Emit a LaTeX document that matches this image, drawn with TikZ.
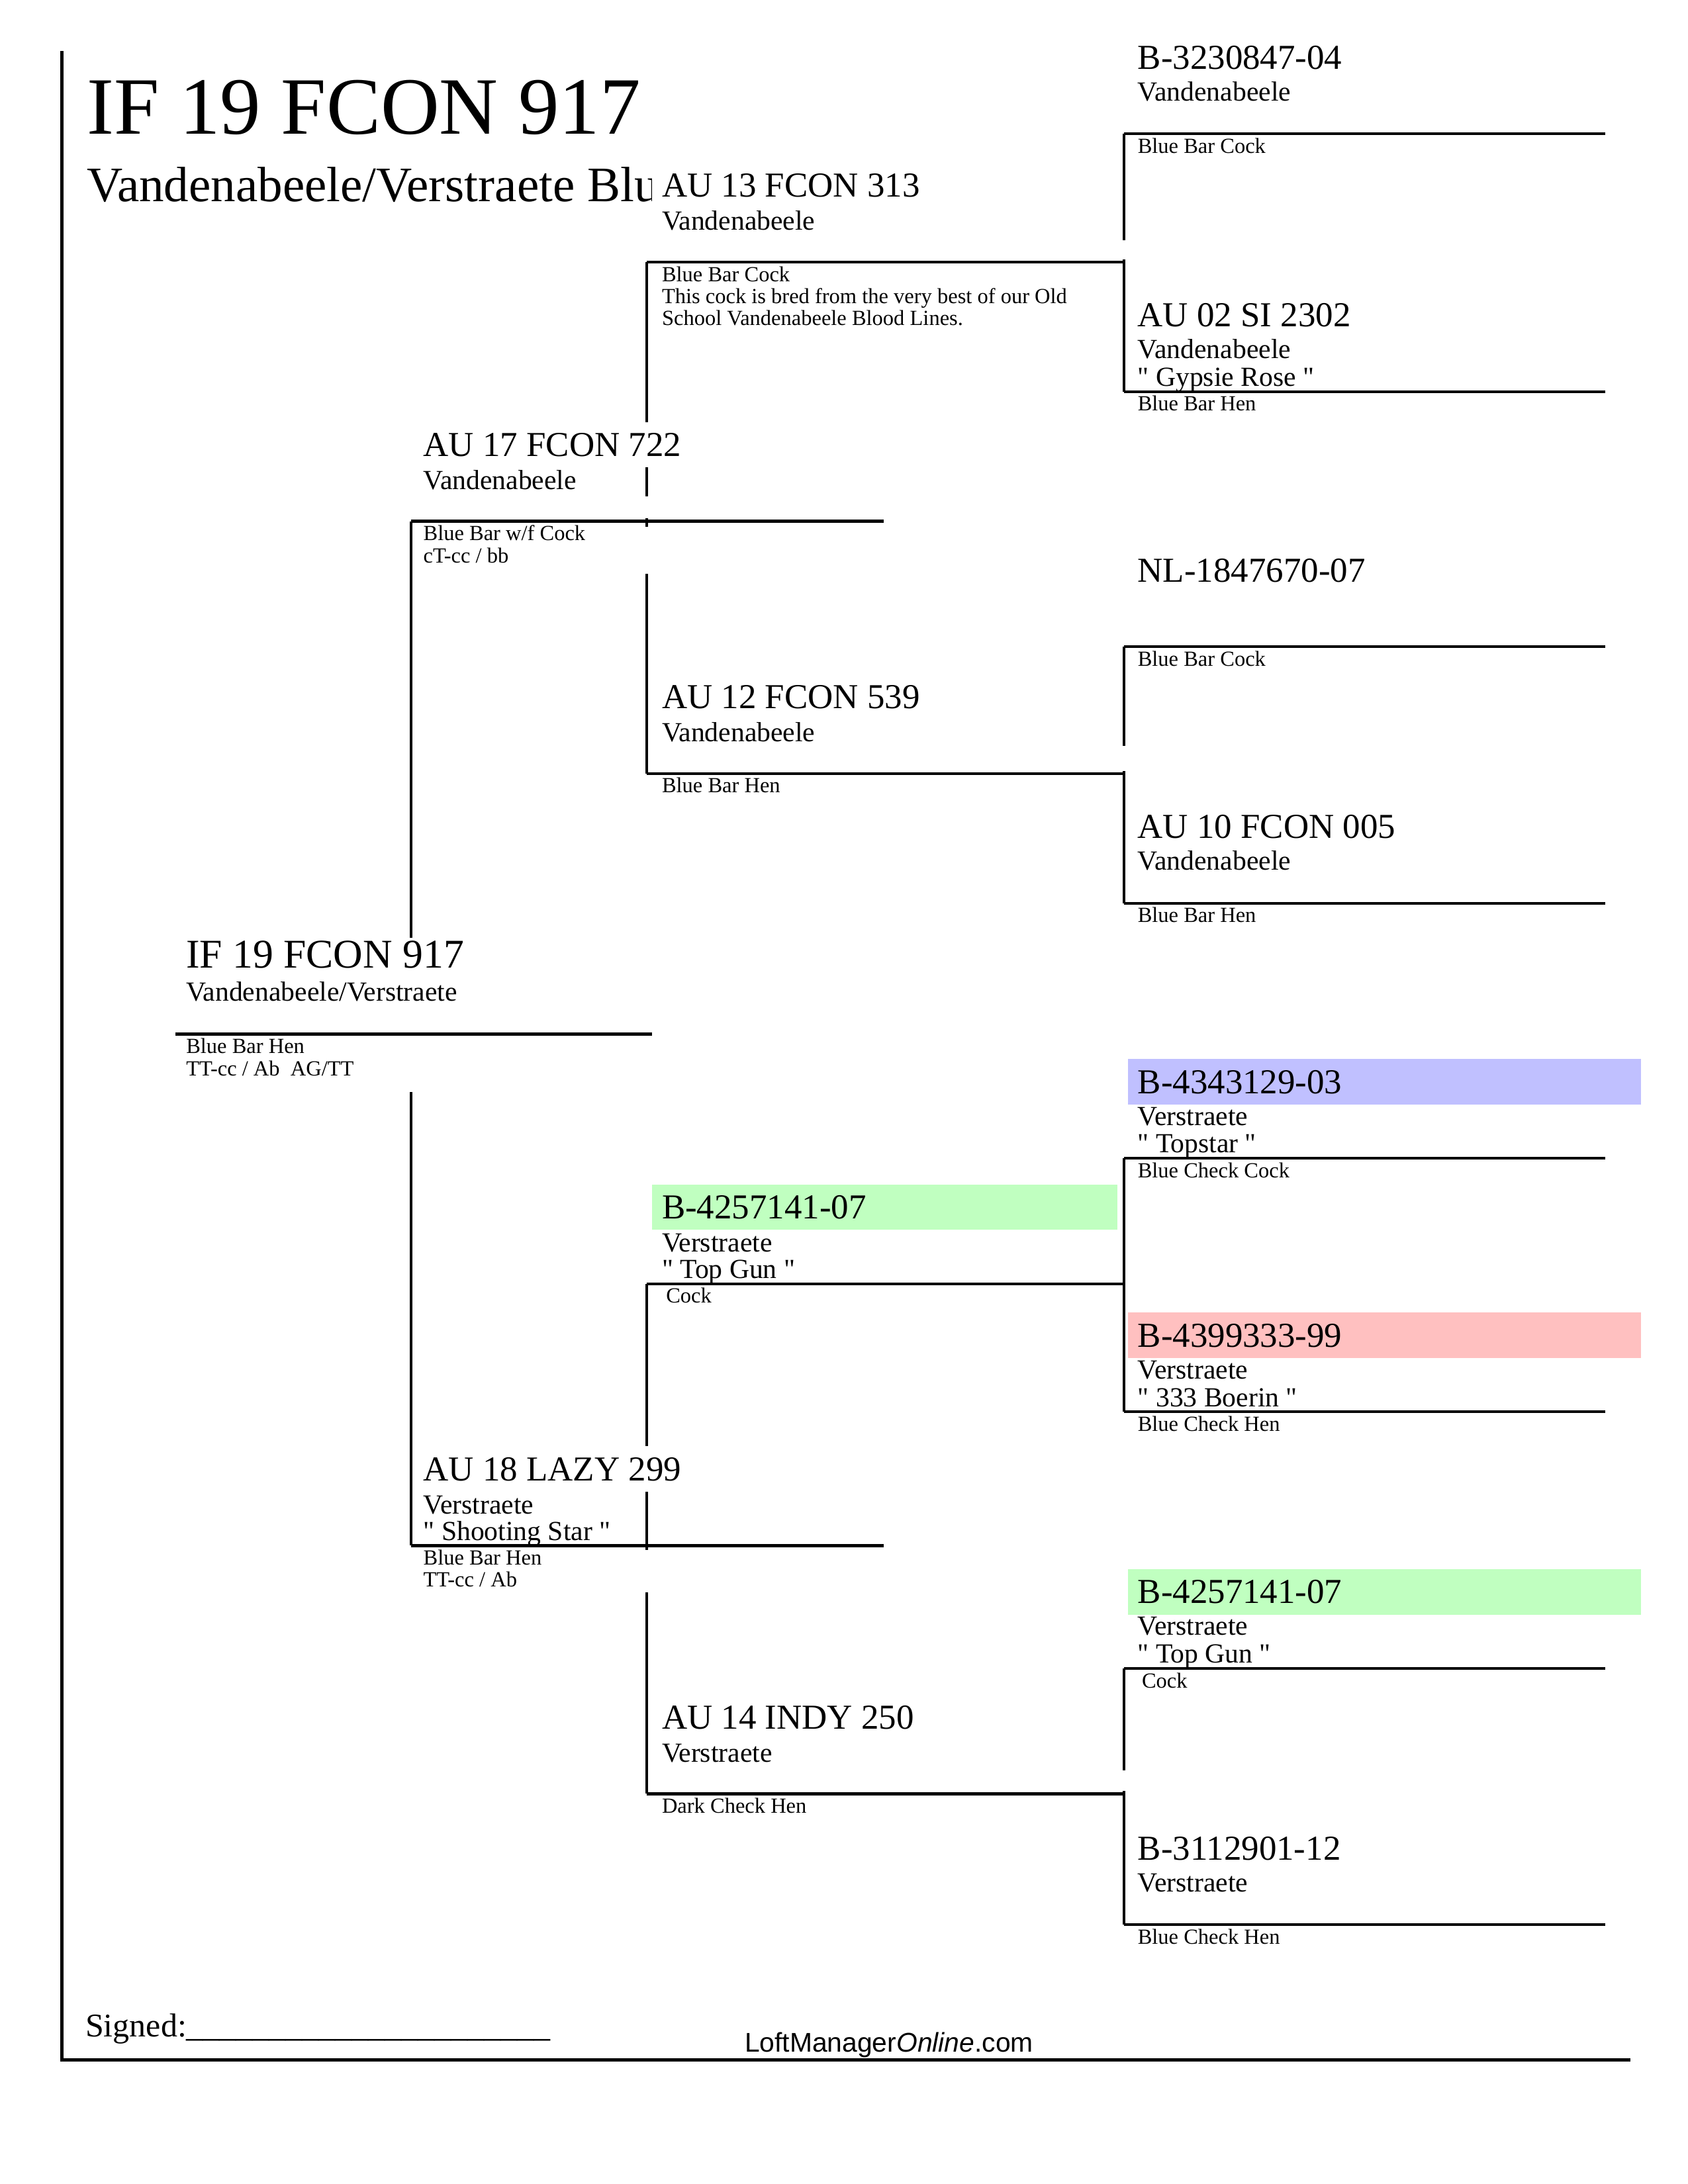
\documentclass[tikz,border=0pt]{standalone}
\usepackage{fontspec}
\setmainfont{Liberation Serif}
\newfontfamily\footsans{Liberation Sans}
\font\plainqten="Liberation Serif" at 10pt
\newcommand\nick[1]{{\plainqten"}#1{\plainqten"}}
\definecolor{hlblue}{RGB}{192,192,255}
\definecolor{hlpink}{RGB}{255,192,192}
\definecolor{hlgreen}{RGB}{192,255,192}
\tikzset{
  txt/.style={anchor=base west, inner sep=0pt, outer sep=0pt},
  nmz/.style={txt, font=\fontsize{14.8}{16}\selectfont},
  nm/.style={txt, font=\fontsize{12.7}{14}\selectfont},
  br/.style={txt, font=\fontsize{10}{12}\selectfont},
  sm/.style={txt, font=\fontsize{7.8}{9}\selectfont},
  ln/.style={line width=1pt},
  mask/.style={fill=white},
}
\begin{document}
\begin{tikzpicture}[x=0.5pt,y=-0.5pt]
\useasboundingbox (0,0) rectangle (1224,1584);
% line end points
\coordinate (a0L) at (127,750);  \coordinate (a0R) at (473,750);
\coordinate (sL) at (298,378);   \coordinate (sR) at (641,378);
\coordinate (dL) at (298,1121);  \coordinate (dR) at (641,1121);
\coordinate (ssL) at (469,190);  \coordinate (ssR) at (815,190);
\coordinate (sdL) at (469,561);  \coordinate (sdR) at (815,561);
\coordinate (dsL) at (469,931);  \coordinate (dsR) at (815,931);
\coordinate (ddL) at (469,1301); \coordinate (ddR) at (815,1301);
\coordinate (sssL) at (815,97);   \coordinate (sssR) at (1164,97);
\coordinate (ssdL) at (815,284);  \coordinate (ssdR) at (1164,284);
\coordinate (sdsL) at (815,469);  \coordinate (sdsR) at (1164,469);
\coordinate (sddL) at (815,655);  \coordinate (sddR) at (1164,655);
\coordinate (dssL) at (815,840);  \coordinate (dssR) at (1164,840);
\coordinate (dsdL) at (815,1024); \coordinate (dsdR) at (1164,1024);
\coordinate (ddsL) at (815,1210); \coordinate (ddsR) at (1164,1210);
\coordinate (dddL) at (815,1396); \coordinate (dddR) at (1164,1396);
\coordinate (bTop) at (45,37); \coordinate (bCorner) at (45,1494); \coordinate (bEnd) at (1182,1494);
% border
\draw[line width=1.1pt] (bTop) -- (bCorner) -- (bEnd);
% vertical brackets
\draw[ln] (sL) -- (dL);
\draw[ln] (ssL) -- (sdL);
\draw[ln] (dsL) -- (ddL);
\draw[ln] (sssL) -- (ssdL);
\draw[ln] (sdsL) -- (sddL);
\draw[ln] (dssL) -- (dsdL);
\draw[ln] (ddsL) -- (dddL);
% title
\node[txt, font=\fontsize{29.5}{32}\selectfont] (title) at (63,97) {IF 19 FCON 917};
\begin{scope}
\clip (50,100) rectangle (473,160);
\node[txt, font=\fontsize{18}{20}\selectfont] (subtitle) at (63,146) {Vandenabeele/Verstraete Blue Bar Hen};
\end{scope}
% white text boxes over lines
\fill[mask] (131,680) rectangle (470,755);
\fill[mask] (131,754) rectangle (470,792);
\fill[mask] (302,306) rectangle (640,339);
\fill[mask] (302,360) rectangle (640,376);
\fill[mask] (302,382) rectangle (640,416);
\fill[mask] (302,1049) rectangle (640,1082);
\fill[mask] (302,1124) rectangle (640,1155);
\fill[mask] (473,118) rectangle (810,151);
\fill[mask] (473,174) rectangle (820,188);
\fill[mask] (473,541) rectangle (820,559);
\fill[mask] (473,1284) rectangle (820,1299);
% coloured name boxes
\fill[hlblue] (818,768) rectangle (1190,801);
\fill[hlpink] (818,952) rectangle (1190,985);
\fill[hlgreen] (818,1138) rectangle (1190,1171);
\fill[hlgreen] (473,859) rectangle (810,892);
% horizontal lines
\draw[ln] (a0L) -- (a0R);
\draw[ln] (sL) -- (sR);
\draw[ln] (dL) -- (dR);
\draw[ln] (ssL) -- (ssR);
\draw[ln] (sdL) -- (sdR);
\draw[ln] (dsL) -- (dsR);
\draw[ln] (ddL) -- (ddR);
\draw[ln] (sssL) -- (sssR);
\draw[ln] (ssdL) -- (ssdR);
\draw[ln] (sdsL) -- (sdsR);
\draw[ln] (sddL) -- (sddR);
\draw[ln] (dssL) -- (dssR);
\draw[ln] (dsdL) -- (dsdR);
\draw[ln] (ddsL) -- (ddsR);
\draw[ln] (dddL) -- (dddR);
% generation 0
\node[nmz] (a0n) at (135,702) {IF 19 FCON 917};
\node[br] (a0b) at (135,726) {Vandenabeele/Verstraete};
\node[sm] (a0c1) at (135,764) {Blue Bar Hen};
\node[sm] (a0c2) at (135,780) {TT-cc / Ab\ \ AG/TT};
% generation 1
\node[nm] (sn) at (307,331) {AU 17 FCON 722};
\node[br] (sb) at (307,355) {Vandenabeele};
\node[sm] (sc1) at (307,392) {Blue Bar w/f Cock};
\node[sm] (sc2) at (307,408) {cT-cc / bb};
\node[nm] (dn) at (307,1074) {AU 18 LAZY 299};
\node[br] (db) at (307,1098) {Verstraete};
\node[br] (dk) at (307,1117) {\nick{ Shooting Star }};
\node[sm] (dc1) at (307,1135) {Blue Bar Hen};
\node[sm] (dc2) at (307,1151) {TT-cc / Ab};
% generation 2
\node[nm] (ssn) at (480,143) {AU 13 FCON 313};
\node[br] (ssb) at (480,167) {Vandenabeele};
\node[sm] (ssc1) at (480,204) {Blue Bar Cock};
\node[sm] (ssc2) at (480,220) {This cock is bred from the very best of our Old};
\node[sm] (ssc3) at (480,236) {School Vandenabeele Blood Lines.};
\node[nm] (sdn) at (480,514) {AU 12 FCON 539};
\node[br] (sdb) at (480,538) {Vandenabeele};
\node[sm] (sdc) at (480,575) {Blue Bar Hen};
\node[nm] (dsn) at (480,884) {B-4257141-07};
\node[br] (dsb) at (480,908) {Verstraete};
\node[br] (dsk) at (480,927) {\nick{ Top Gun }};
\node[sm] (dsc) at (483,945) {Cock};
\node[nm] (ddn) at (480,1254) {AU 14 INDY 250};
\node[br] (ddb) at (480,1278) {Verstraete};
\node[sm] (ddc) at (480,1315) {Dark Check Hen};
% generation 3
\node[nm] (sssn) at (825,50) {B-3230847-04};
\node[br] (sssb) at (825,73) {Vandenabeele};
\node[sm] (sssc) at (825,111) {Blue Bar Cock};
\node[nm] (ssdn) at (825,237) {AU 02 SI 2302};
\node[br] (ssdb) at (825,260) {Vandenabeele};
\node[br] (ssdk) at (825,280) {\nick{ Gypsie Rose }};
\node[sm] (ssdc) at (825,298) {Blue Bar Hen};
\node[nm] (sdsn) at (825,422) {NL-1847670-07};
\node[sm] (sdsc) at (825,483) {Blue Bar Cock};
\node[nm] (sddn) at (825,608) {AU 10 FCON 005};
\node[br] (sddb) at (825,631) {Vandenabeele};
\node[sm] (sddc) at (825,669) {Blue Bar Hen};
\node[nm] (dssn) at (825,793) {B-4343129-03};
\node[br] (dssb) at (825,816) {Verstraete};
\node[br] (dssk) at (825,836) {\nick{ Topstar }};
\node[sm] (dssc) at (825,854) {Blue Check Cock};
\node[nm] (dsdn) at (825,977) {B-4399333-99};
\node[br] (dsdb) at (825,1000) {Verstraete};
\node[br] (dsdk) at (825,1020) {\nick{ 333 Boerin }};
\node[sm] (dsdc) at (825,1038) {Blue Check Hen};
\node[nm] (ddsn) at (825,1163) {B-4257141-07};
\node[br] (ddsb) at (825,1186) {Verstraete};
\node[br] (ddsk) at (825,1206) {\nick{ Top Gun }};
\node[sm] (ddsc) at (828,1224) {Cock};
\node[nm] (dddn) at (825,1349) {B-3112901-12};
\node[br] (dddb) at (825,1372) {Verstraete};
\node[sm] (dddc) at (825,1410) {Blue Check Hen};
% footer
\node[txt, font=\fontsize{12}{14}\selectfont] (signed) at (62,1477) {Signed:\_\_\_\_\_\_\_\_\_\_\_\_\_\_\_\_\_\_\_\_\_\_};
\node[txt, font=\footsans\fontsize{9.8}{12}\selectfont] (site) at (540,1488) {LoftManager\textit{Online}.com};
\end{tikzpicture}
\end{document}
